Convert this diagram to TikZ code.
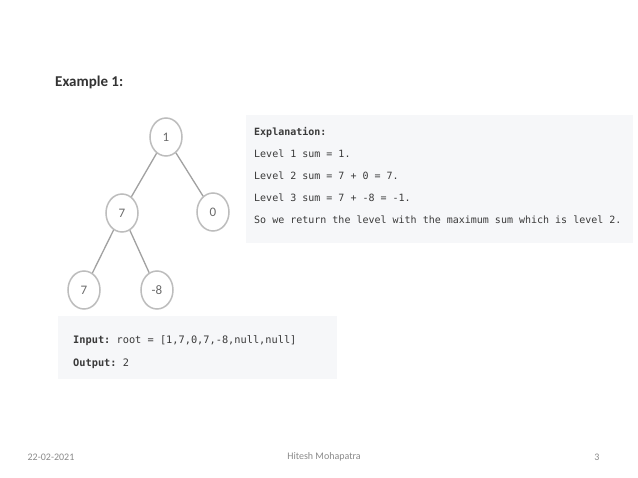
\documentclass[tikz,border=0pt]{standalone}
\usepackage{fontspec}
\setmainfont{Carlito}
\setmonofont{DejaVu Sans Mono}
\usetikzlibrary{shapes.geometric}
\definecolor{ringgray}{HTML}{BDBDBD}
\definecolor{digitgray}{HTML}{6A6A6A}
\definecolor{codebg}{HTML}{F6F7F9}
\definecolor{codetext}{HTML}{3A3A3A}
\definecolor{footgray}{HTML}{8A8A8A}

\begin{document}
\begin{tikzpicture}[x=1pt,y=-1pt,
  tnode/.style={ellipse,draw=ringgray,line width=1.5pt,minimum width=32pt,minimum height=38pt,
    inner sep=0pt,text=digitgray,font=\fontsize{13}{14}\selectfont},
  tedge/.style={draw=ringgray!85!black,line width=1.3pt},
  codeline/.style={anchor=west,inner sep=0pt,text=codetext,font=\ttfamily\fontsize{10}{12}\selectfont},
  foot/.style={text=footgray,inner sep=0pt,font=\fontsize{10}{11}\selectfont}]
\useasboundingbox (0,0) rectangle (638,478);
\fill[white] (0,0) rectangle (638,478);
% heading
\node[anchor=west,inner sep=0pt,text=black!80,font=\bfseries\fontsize{15}{17}\selectfont] (title) at (55,82) {Example 1:};
% tree
\node[tnode] (r) at (166,137) {1};
\node[tnode] (a) at (122,213) {7};
\node[tnode] (b) at (213,212) {0};
\node[tnode] (c) at (84,290) {7};
\node[tnode] (d) at (157,290) {-8};
\draw[tedge] (r) -- (a);
\draw[tedge] (r) -- (b);
\draw[tedge] (a) -- (c);
\draw[tedge] (a) -- (d);
% explanation box
\fill[codebg] (246,115) rectangle (633,243);
\node[codeline,font=\ttfamily\bfseries\fontsize{10}{12}\selectfont] (ex0) at (254,132) {Explanation:};
\node[codeline] (ex1) at (254,154) {Level 1 sum = 1.};
\node[codeline] (ex2) at (254,176) {Level 2 sum = 7 + 0 = 7.};
\node[codeline] (ex3) at (254,198) {Level 3 sum = 7 + -8 = -1.};
\node[codeline] (ex4) at (254,220) {So we return the level with the maximum sum which is level 2.};
% input box
\fill[codebg] (58,316) rectangle (337,379);
\node[codeline,font=\ttfamily\fontsize{10.3}{12}\selectfont] (in) at (73,341) {\textbf{Input:} root = [1,7,0,7,-8,null,null]};
\node[codeline,font=\ttfamily\fontsize{10.3}{12}\selectfont] (out) at (73,364) {\textbf{Output:} 2};
% footer
\node[foot] (date) at (51,457) {22-02-2021};
\node[foot] (name) at (324,457) {Hitesh Mohapatra};
\node[foot] (page) at (597,457) {3};
\end{tikzpicture}
\end{document}
